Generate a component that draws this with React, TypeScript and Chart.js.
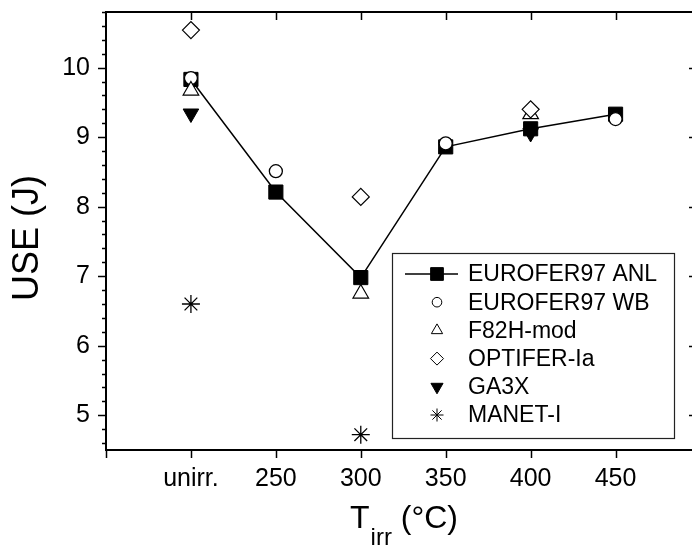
import React, { useEffect, useRef } from 'react';
import { Chart, registerables } from 'chart.js';
import { drawPoint } from 'chart.js/helpers';

Chart.register(...registerables);

// ---- data ----
const categories = ['unirr.', '250', '300', '350', '400', '450'];
const xPositions = [1, 2, 3, 4, 5, 6];
const yMajorTicks = [5, 6, 7, 8, 9, 10];

const eurofer97ANL = [9.83, 8.21, 6.98, 8.86, 9.12, 9.33];
const eurofer97WB = [9.85, 8.51, null, 8.91, null, 9.26];
const f82hMod = [9.67, null, 6.75, null, 9.33, null];
const optiferIa = [10.54, null, 8.14, null, 9.4, null];
const ga3x = [9.34, null, null, null, 9.06, null];
const manetI = [6.6, null, 4.72, null, null, null];

const seriesNames = ['EUROFER97 ANL', 'EUROFER97 WB', 'F82H-mod', 'OPTIFER-Ia', 'GA3X', 'MANET-I'];

const FONT = "'Liberation Sans', Arial, Helvetica, sans-serif";

function toPoints(vals: (number | null)[]) {
  const out: { x: number; y: number }[] = [];
  vals.forEach((v, i) => {
    if (v !== null) out.push({ x: xPositions[i], y: v });
  });
  return out;
}

const legendSymbols = [
  { pointStyle: 'rect', radius: 9, rotation: 0, fill: '#000', line: true },
  { pointStyle: 'circle', radius: 4.8, rotation: 0, fill: '#fff', line: false },
  { pointStyle: 'triangle', radius: 6.5, rotation: 0, fill: '#fff', line: false },
  { pointStyle: 'rectRot', radius: 6.5, rotation: 0, fill: '#fff', line: false },
  { pointStyle: 'triangle', radius: 7, rotation: 180, fill: '#000', line: false },
  { pointStyle: 'star', radius: 6.5, rotation: 0, fill: '#fff', line: false },
];

const framePlugin = {
  id: 'framePlugin',
  afterDraw(chart: any) {
    const ctx = chart.ctx as CanvasRenderingContext2D;
    const { left, right, top, bottom } = chart.chartArea;
    const xs = chart.scales.x;
    const ys = chart.scales.y;
    ctx.save();
    ctx.strokeStyle = '#000';
    ctx.lineWidth = 2;
    // frame
    ctx.beginPath();
    ctx.moveTo(left, top);
    ctx.lineTo(left, bottom);
    ctx.moveTo(left - 1, bottom);
    ctx.lineTo(right, bottom);
    ctx.moveTo(left - 1, top);
    ctx.lineTo(right, top);
    ctx.stroke();

    ctx.lineWidth = 1.5;
    ctx.beginPath();
    // y major/minor ticks
    for (let v = 4.6; v <= 10.8 + 1e-6; v += 0.2) {
      const y = Math.round(ys.getPixelForValue(v)) + 0.5;
      const isMajor = Math.abs(v - Math.round(v)) < 1e-6;
      const len = isMajor ? 8 : 4;
      ctx.moveTo(left, y);
      ctx.lineTo(left - len, y);
    }
    // right-side ticks (inward)
    yMajorTicks.forEach((v) => {
      const y = Math.round(ys.getPixelForValue(v)) + 0.5;
      ctx.moveTo(right, y);
      ctx.lineTo(right - 3, y);
    });
    // bottom ticks
    [0, ...xPositions].forEach((v) => {
      const x = Math.round(xs.getPixelForValue(v)) + 0.5;
      ctx.moveTo(x, bottom);
      ctx.lineTo(x, bottom + 8);
    });
    // top ticks (inward)
    xPositions.forEach((v) => {
      const x = Math.round(xs.getPixelForValue(v)) + 0.5;
      ctx.moveTo(x, top);
      ctx.lineTo(x, top + 8);
    });
    ctx.stroke();

    // y title
    ctx.fillStyle = '#000';
    ctx.save();
    ctx.translate(28, 238);
    ctx.rotate(-Math.PI / 2);
    ctx.font = `36px ${FONT}`;
    ctx.textAlign = 'center';
    ctx.textBaseline = 'middle';
    ctx.fillText('USE (J)', 0, 0);
    ctx.restore();

    // x title with subscript
    ctx.save();
    ctx.textBaseline = 'alphabetic';
    ctx.textAlign = 'left';
    const baseY = 528;
    const bigFont = `32px ${FONT}`;
    const subFont = `24px ${FONT}`;
    ctx.font = bigFont;
    const wT = ctx.measureText('T').width;
    const wRest = ctx.measureText(' (°C)').width;
    ctx.font = subFont;
    const wSub = ctx.measureText('irr').width;
    const total = wT + 1 + wSub + wRest;
    let x0 = 404 - total / 2;
    ctx.font = bigFont;
    ctx.fillText('T', x0, baseY);
    x0 += wT + 1;
    ctx.font = subFont;
    ctx.fillText('irr', x0, baseY + 17);
    x0 += wSub;
    ctx.font = bigFont;
    ctx.fillText(' (°C)', x0, baseY);
    ctx.restore();

    // legend
    const lx = 392, ly = 253, lw = 282, lh = 185;
    ctx.lineWidth = 1.2;
    ctx.strokeStyle = '#222';
    ctx.fillStyle = '#fff';
    ctx.fillRect(lx, ly, lw, lh);
    ctx.strokeRect(lx + 0.5, ly + 0.5, lw, lh);
    ctx.font = `23px ${FONT}`;
    ctx.textBaseline = 'middle';
    ctx.textAlign = 'left';
    seriesNames.forEach((name, i) => {
      const cy = 274 + i * 28.2;
      const sym = legendSymbols[i];
      ctx.strokeStyle = '#000';
      if (sym.line) {
        ctx.lineWidth = 1.5;
        ctx.beginPath();
        ctx.moveTo(405, cy);
        ctx.lineTo(458, cy);
        ctx.stroke();
      }
      ctx.fillStyle = sym.fill;
      ctx.lineWidth = 1;
      drawPoint(ctx, { pointStyle: sym.pointStyle as any, radius: sym.radius, rotation: sym.rotation, borderWidth: 1 }, 437, cy);
      ctx.fillStyle = '#000';
      ctx.fillText(name, 468, cy + 1);
    });
    ctx.restore();
  },
};

export default function App() {
  const ref = useRef<HTMLCanvasElement | null>(null);
  useEffect(() => {
    if (!ref.current) return;
    const common = { showLine: false, borderColor: '#000', pointBorderColor: '#000' };
    const chart = new Chart(ref.current, {
      type: 'scatter',
      data: {
        datasets: [
          {
            label: seriesNames[0],
            data: toPoints(eurofer97ANL),
            showLine: true,
            borderColor: '#000',
            borderWidth: 1.5,
            pointStyle: 'rect',
            pointRadius: 10,
            pointBackgroundColor: '#000',
            pointBorderColor: '#000',
            pointBorderWidth: 1,
            order: 6,
          },
          {
            ...common,
            label: seriesNames[1],
            data: toPoints(eurofer97WB),
            pointStyle: 'circle',
            pointRadius: 6.5,
            pointBackgroundColor: '#fff',
            pointBorderWidth: 1.3,
            order: 5,
          },
          {
            ...common,
            label: seriesNames[2],
            data: toPoints(f82hMod),
            pointStyle: 'triangle',
            pointRadius: 9,
            pointBackgroundColor: '#fff',
            pointBorderWidth: 1.2,
            order: 4,
          },
          {
            ...common,
            label: seriesNames[3],
            data: toPoints(optiferIa),
            pointStyle: 'rectRot',
            pointRadius: 8.5,
            pointBackgroundColor: '#fff',
            pointBorderWidth: 1.2,
            order: 3,
          },
          {
            ...common,
            label: seriesNames[4],
            data: toPoints(ga3x),
            pointStyle: 'triangle',
            pointRotation: 180,
            pointRadius: 9,
            pointBackgroundColor: '#000',
            pointBorderWidth: 1,
            order: 2,
          },
          {
            ...common,
            label: seriesNames[5],
            data: toPoints(manetI),
            pointStyle: 'star',
            pointRadius: 9,
            pointBackgroundColor: '#fff',
            pointBorderWidth: 1.3,
            order: 1,
          },
        ] as any,
      },
      options: {
        animation: false,
        responsive: false,
        maintainAspectRatio: false,
        layout: { autoPadding: false, padding: { top: 12, right: 0, left: 0, bottom: 0 } },
        plugins: { legend: { display: false }, tooltip: { enabled: false } },
        scales: {
          x: {
            type: 'linear',
            min: 0,
            max: 6.9,
            grid: { display: false, drawTicks: false },
            border: { display: false },
            afterFit: (s: any) => {
              s.height = 99;
              s.paddingLeft = 0;
              s.paddingRight = 0;
            },
            afterBuildTicks: (s: any) => { s.ticks = xPositions.map((v) => ({ value: v })); },
            ticks: {
              color: '#000',
              font: { size: 25, family: FONT },
              padding: 14,
              maxRotation: 0,
              autoSkip: false,
              callback: (v: any) => categories[xPositions.indexOf(Number(v))] ?? '',
            },
          },
          y: {
            type: 'linear',
            min: 4.5,
            max: 10.8,
            grid: { display: false, drawTicks: false },
            border: { display: false },
            afterFit: (s: any) => {
              s.width = 106;
              s.paddingTop = 0;
              s.paddingBottom = 0;
            },
            afterBuildTicks: (s: any) => { s.ticks = yMajorTicks.map((v) => ({ value: v })); },
            ticks: {
              color: '#000',
              font: { size: 25, family: FONT },
              padding: 16,
              autoSkip: false,
              callback: (v: any) => String(v),
            },
          },
        },
      },
      plugins: [framePlugin],
    });
    return () => chart.destroy();
  }, []);
  return (
    <div style={{ position: 'fixed', left: 0, top: 0, width: 692, height: 549, background: '#fff' }}>
      <canvas ref={ref} width={692} height={549} style={{ display: 'block' }} />
    </div>
  );
}
